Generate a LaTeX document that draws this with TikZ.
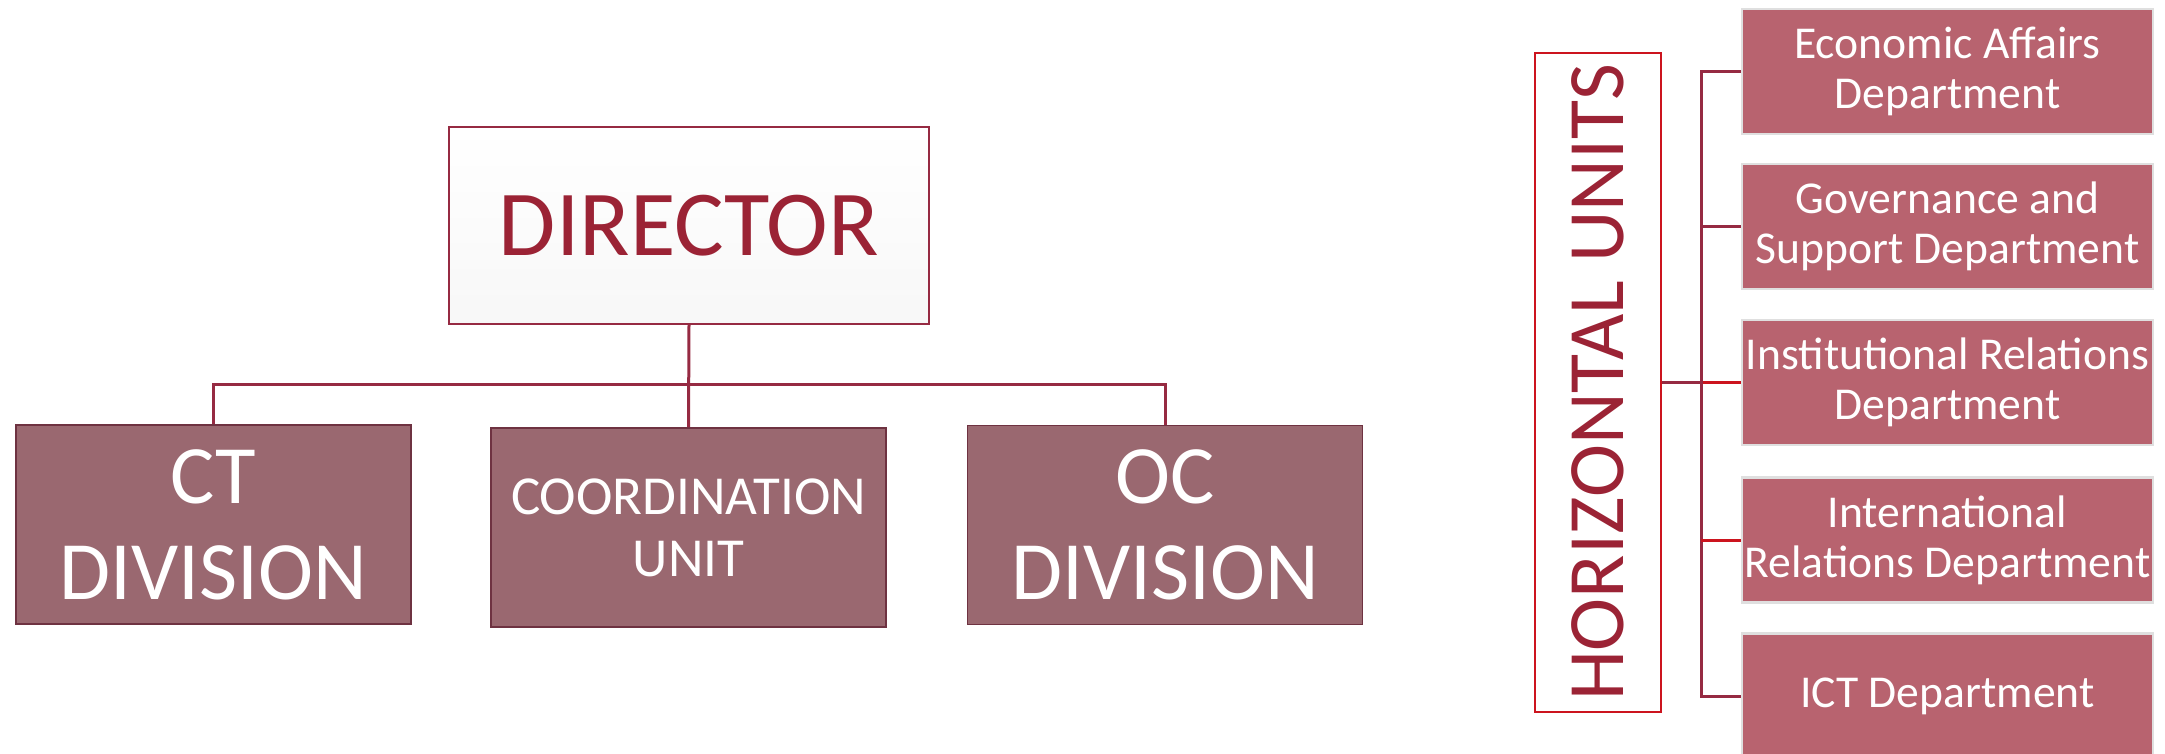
\documentclass[tikz,border=0pt]{standalone}
\usepackage{fontspec}
\setmainfont{Carlito}
\definecolor{lineM}{RGB}{150,42,66}
\definecolor{dirTxt}{RGB}{155,35,53}
\definecolor{divFill}{RGB}{154,104,112}
\definecolor{divBorder}{RGB}{110,50,65}
\definecolor{deptFill}{RGB}{184,99,111}
\definecolor{huRed}{RGB}{204,20,30}
\begin{document}
\begin{tikzpicture}[x=0.5pt,y=-0.5pt,
  conn/.style={draw=lineM,line width=1.5pt},
  connR/.style={draw=huRed,line width=1.5pt},
  dirbox/.style={draw=lineM,line width=1.1pt,top color=white,bottom color=gray!6,minimum width=240pt,minimum height=98.5pt,inner sep=0pt,text=dirTxt,font=\fontsize{46.5}{50}\selectfont},
  divbox/.style={draw=divBorder,line width=0.8pt,fill=divFill,minimum width=197.5pt,minimum height=99.5pt,inner sep=0pt,text=white,align=center},
  deptbox/.style={draw=gray!25,line width=1.2pt,fill=deptFill,minimum width=205.5pt,minimum height=62.5pt,inner sep=0pt,text=white,align=center,font=\fontsize{22.8}{25}\selectfont},
  hubox/.style={draw=huRed,line width=1.3pt,minimum width=63pt,minimum height=329.5pt,inner sep=0pt}
]
\useasboundingbox (0,0) rectangle (2165,754);
\node[dirbox] (dir) at (689,225.5) {DIRECTOR};
\node[divbox,font=\fontsize{41.5}{48}\selectfont] (ct) at (213.5,524.5) {CT\\DIVISION};
\node[divbox,font=\fontsize{27.5}{31}\selectfont] (coord) at (688.5,527.5) {COORDINATION\\UNIT};
\node[divbox,font=\fontsize{41.5}{48}\selectfont] (oc) at (1165,525) {OC\\DIVISION};
\coordinate (bus) at (689,385);
\draw[conn] (dir.south) -- (coord.north);
\draw[conn] (ct.north) |- (bus) -| (oc.north);

\node[hubox] (hu) at (1598,382.5) {};
\node[rotate=90,text=dirTxt,inner sep=0pt,text height=26pt,text depth=0pt,font=\fontsize{40}{40}\selectfont] (hutext) at (1597,382.5) {HORIZONTAL UNITS};

\node[deptbox] (econ) at (1947.5,71.5) {Economic Affairs\\Department};
\node[deptbox] (gov) at (1947.5,226.5) {Governance and\\Support Department};
\node[deptbox] (inst) at (1947.5,382.5) {Institutional Relations\\Department};
\node[deptbox] (intl) at (1947.5,540) {International\\Relations Department};
\node[deptbox] (ict) at (1947.5,696) {ICT Department};

\coordinate (sp) at (1701,382.5);
\draw[conn] (hu.east) -- (sp);
\draw[connR] (sp) -- (inst.west);
\draw[conn] (econ.west) -| (sp);
\draw[conn] (ict.west) -| (sp);
\draw[conn] (gov.west) -- (gov.west -| sp);
\draw[connR] (intl.west) -- (intl.west -| sp);
\end{tikzpicture}
\end{document}
